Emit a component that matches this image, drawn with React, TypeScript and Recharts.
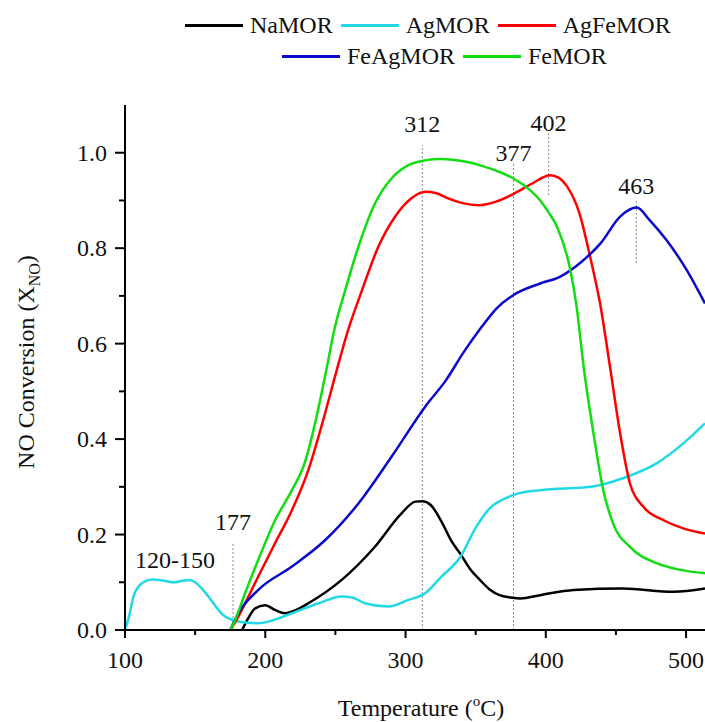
import React from 'react';
import {
  LineChart, Line, XAxis, YAxis, ReferenceLine, ReferenceDot,
} from 'recharts';

const FONT = '"Liberation Serif", "Times New Roman", serif';

// temperatures (°C) and NO conversion, one pair of arrays per sample
const naT = [183.5, 187, 192.7, 199.8, 207, 214, 222, 230.7, 254.5, 278, 297, 307, 312, 318, 326, 333, 339, 346, 353, 360, 367, 375, 382, 396, 420, 455, 491, 513.5];
const naX = [0, 0.02, 0.045, 0.052, 0.042, 0.035, 0.042, 0.056, 0.105, 0.174, 0.244, 0.269, 0.27, 0.262, 0.225, 0.185, 0.16, 0.128, 0.105, 0.085, 0.073, 0.068, 0.066, 0.073, 0.084, 0.087, 0.08, 0.087];

const agT = [100, 103, 106, 110, 115, 120, 128, 135, 141, 146, 150, 155, 160, 163, 167, 170, 177, 187, 195, 205, 219, 238, 254.5, 262, 271, 287.7, 302, 314, 325, 339, 350, 360, 370, 377, 396, 432, 455, 479, 498, 513.5];
const agX = [0, 0.03, 0.07, 0.092, 0.103, 0.106, 0.103, 0.1, 0.103, 0.105, 0.1, 0.086, 0.068, 0.056, 0.041, 0.031, 0.021, 0.015, 0.014, 0.02, 0.035, 0.056, 0.07, 0.068, 0.056, 0.049, 0.063, 0.077, 0.11, 0.153, 0.214, 0.255, 0.274, 0.283, 0.293, 0.3, 0.318, 0.349, 0.391, 0.433];

const agfeT = [175, 180.8, 188, 195, 207, 219, 230.7, 240, 249.7, 259, 269, 280.6, 292.5, 304, 314, 322, 330, 340, 352, 365, 377, 390, 403, 409, 415, 424, 431.6, 438.7, 445.8, 453, 460, 469.6, 484, 498, 513.5];
const agfeX = [0, 0.028, 0.07, 0.112, 0.182, 0.251, 0.335, 0.426, 0.531, 0.628, 0.712, 0.803, 0.866, 0.904, 0.918, 0.915, 0.905, 0.895, 0.89, 0.898, 0.914, 0.935, 0.953, 0.948, 0.93, 0.873, 0.782, 0.684, 0.551, 0.412, 0.307, 0.258, 0.23, 0.213, 0.202];

const feagT = [175, 180.8, 195, 219, 242.6, 266.4, 290, 314, 329, 341, 353, 365, 377, 396, 410, 424, 439, 453, 464.8, 474, 486, 500.5, 513.5];
const feagX = [0, 0.035, 0.084, 0.133, 0.188, 0.265, 0.363, 0.468, 0.524, 0.58, 0.63, 0.674, 0.702, 0.726, 0.74, 0.768, 0.81, 0.866, 0.885, 0.859, 0.817, 0.754, 0.684];

const feT = [175, 178.4, 186, 195, 207, 219, 228, 235.5, 242.6, 249.7, 257, 266.4, 278.3, 290, 302, 314, 325, 335, 345, 355, 365, 377, 389, 396, 402, 408, 417, 422, 427, 434, 441, 448, 460, 479, 496, 513.5];
const feX = [0, 0.02, 0.08, 0.147, 0.23, 0.293, 0.349, 0.433, 0.531, 0.635, 0.712, 0.803, 0.894, 0.946, 0.974, 0.984, 0.987, 0.985, 0.98, 0.972, 0.962, 0.946, 0.921, 0.9, 0.875, 0.845, 0.761, 0.677, 0.551, 0.412, 0.293, 0.223, 0.174, 0.14, 0.126, 0.119];

const xTicks = [100, 150, 200, 250, 300, 350, 400, 450, 500];
const yTicks = [0, 0.1, 0.2, 0.3, 0.4, 0.5, 0.6, 0.7, 0.8, 0.9, 1.0];

// peak markers: temperature, dotted segment range, label position
const markers = [
  { t: 177, from: 0, to: 0.182, labelY: 0.228, text: '177' },
  { t: 312, from: 0, to: 1.016, labelY: 1.062, text: '312' },
  { t: 377, from: 0, to: 0.98, labelY: 1.001, text: '377' },
  { t: 402, from: 0.911, to: 1.043, labelY: 1.064, text: '402' },
  { t: 464.5, from: 0.769, to: 0.9, labelY: 0.932, text: '463' },
];

const series = [
  { name: 'NaMOR', color: '#000000', t: naT, x: naX },
  { name: 'AgMOR', color: '#22d8e6', t: agT, x: agX },
  { name: 'AgFeMOR', color: '#ff0000', t: agfeT, x: agfeX },
  { name: 'FeAgMOR', color: '#0a0acc', t: feagT, x: feagX },
  { name: 'FeMOR', color: '#11dd11', t: feT, x: feX },
];

const toRows = (t: number[], x: number[]) => t.map((v, i) => ({ t: v, x: x[i] }));

function XTick({ x, y, payload }: any) {
  const major = payload.value % 100 === 0;
  return (
    <g>
      <line x1={x} y1={y} x2={x} y2={y + (major ? 8 : 5)} stroke="#000" strokeWidth={2} />
      {major && (
        <text x={x} y={y + 38} textAnchor="middle" fontSize={24} fontFamily={FONT} fill="#111">
          {payload.value}
        </text>
      )}
    </g>
  );
}

function YTick({ x, y, payload }: any) {
  const major = Math.round(payload.value * 10) % 2 === 0;
  return (
    <g>
      <line x1={x - (major ? 10 : 6)} y1={y} x2={x} y2={y} stroke="#000" strokeWidth={2} />
      {major && (
        <text x={x - 18} y={y + 8} textAnchor="end" fontSize={24} fontFamily={FONT} fill="#111">
          {payload.value.toFixed(1)}
        </text>
      )}
    </g>
  );
}

function LegendItem({ name, color }: { name: string; color: string }) {
  return (
    <div style={{ display: 'flex', alignItems: 'center', marginRight: 8 }}>
      <div style={{ width: 58, height: 3, background: color, marginRight: 7 }} />
      <span>{name}</span>
    </div>
  );
}

export default function App() {
  const rowStyle: React.CSSProperties = {
    position: 'absolute', display: 'flex', alignItems: 'center',
    fontFamily: FONT, fontSize: 24, color: '#111', whiteSpace: 'nowrap', lineHeight: '28px',
  };
  return (
    <div style={{ position: 'absolute', left: 0, top: 0, width: 705, height: 722, background: '#fff', overflow: 'hidden' }}>
      <div style={{ ...rowStyle, left: 185, top: 11 }}>
        {series.slice(0, 3).map((s) => <LegendItem key={s.name} name={s.name} color={s.color} />)}
      </div>
      <div style={{ ...rowStyle, left: 282, top: 42 }}>
        {series.slice(3).map((s) => <LegendItem key={s.name} name={s.name} color={s.color} />)}
      </div>
      <LineChart width={705} height={722} margin={{ top: 105, right: 0, bottom: 0, left: 0 }}>
        <XAxis
          dataKey="t"
          type="number"
          domain={[100, 513.5]}
          ticks={xTicks}
          interval={0}
          height={92}
          tickSize={0}
          tickMargin={0}
          tickLine={false}
          axisLine={{ stroke: '#000', strokeWidth: 2 }}
          tick={<XTick />}
          allowDataOverflow
          label={() => (
            <text x={421} y={716} textAnchor="middle" fontSize={24} fontFamily={FONT} fill="#111">
              Temperature (<tspan fontSize={15} dy={-10}>o</tspan><tspan dy={10}>C)</tspan>
            </text>
          )}
        />
        <XAxis
          xAxisId="top"
          orientation="top"
          type="number"
          domain={[100, 513.5]}
          height={0}
          tick={false}
          tickLine={false}
          axisLine={{ stroke: '#000', strokeWidth: 2 }}
        />
        <YAxis
          type="number"
          domain={[0, 1.1]}
          ticks={yTicks}
          interval={0}
          width={125}
          tickSize={0}
          tickMargin={0}
          tickLine={false}
          axisLine={{ stroke: '#000', strokeWidth: 2 }}
          tick={<YTick />}
          allowDataOverflow
          label={() => (
            <text
              x={34}
              y={362}
              transform="rotate(-90, 34, 362)"
              textAnchor="middle"
              fontSize={24}
              fontFamily={FONT}
              fill="#111"
            >
              NO Conversion (X<tspan fontSize={16} dy={6}>NO</tspan><tspan dy={-6}>)</tspan>
            </text>
          )}
        />

        {markers.map((m) => (
          <ReferenceLine
            key={'l' + m.text}
            segment={[{ x: m.t, y: m.from }, { x: m.t, y: m.to }]}
            stroke="#8a8a8a"
            strokeWidth={1}
            strokeDasharray="2 2"
          />
        ))}
        {markers.map((m) => (
          <ReferenceDot
            key={'d' + m.text}
            x={m.t}
            y={m.labelY}
            r={0}
            fill="none"
            stroke="none"
            label={{ value: m.text, position: 'center', fill: '#111', fontSize: 24, fontFamily: FONT }}
          />
        ))}
        <ReferenceDot
          x={135.6}
          y={0.147}
          r={0}
          fill="none"
          stroke="none"
          label={{ value: '120-150', position: 'center', fill: '#111', fontSize: 24, fontFamily: FONT }}
        />

        {series.map((s) => (
          <Line
            key={s.name}
            data={toRows(s.t, s.x)}
            dataKey="x"
            name={s.name}
            type="monotone"
            stroke={s.color}
            strokeWidth={2.5}
            dot={false}
            isAnimationActive={false}
          />
        ))}
      </LineChart>
    </div>
  );
}
